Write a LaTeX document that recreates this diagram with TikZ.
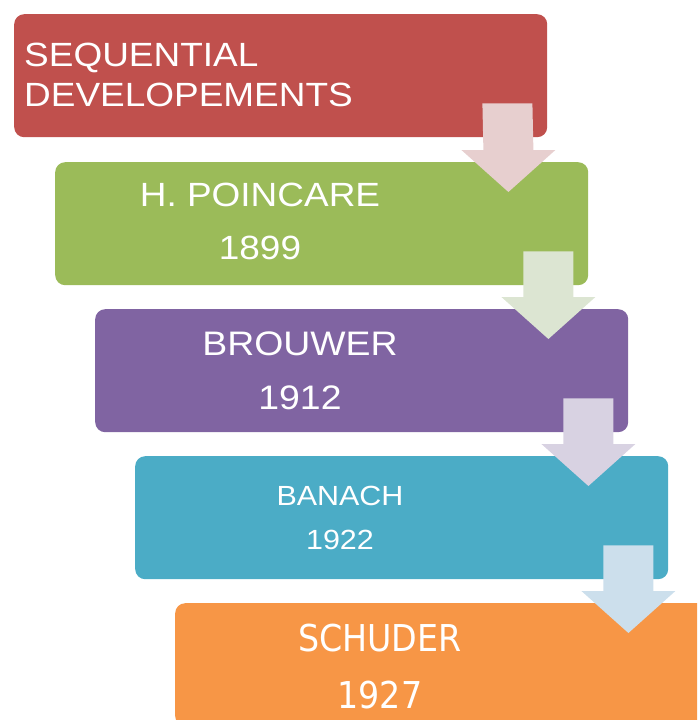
\documentclass[tikz,border=0pt]{standalone}
\usepackage{fontspec}
\setmainfont[FakeStretch=1.1]{Liberation Sans}
\newfontfamily\schuderfont[FakeStretch=0.9]{DejaVu Sans}
\usetikzlibrary{calc}
\definecolor{stepred}{HTML}{C0504D}
\definecolor{stepgreen}{HTML}{9BBB59}
\definecolor{steppurple}{HTML}{8064A2}
\definecolor{stepblue}{HTML}{4BACC6}
\definecolor{steporange}{HTML}{F79646}
\definecolor{arrowred}{HTML}{E7CFCF}
\definecolor{arrowgreen}{HTML}{DCE5D2}
\definecolor{arrowpurple}{HTML}{D8D2E2}
\definecolor{arrowblue}{HTML}{CCDFEC}
\tikzset{
  stage/.style={fill=#1, rounded corners=10pt, minimum width=533pt,
    minimum height=123pt, inner sep=0pt, anchor=north west},
  stagetext/.style={text=white, align=center, inner sep=0pt,
    font=\fontsize{33.6}{53}\selectfont}
}

\begin{document}
\begin{tikzpicture}[x=1pt, y=-1pt]
\useasboundingbox (0,0) rectangle (697,720);
\clip (0,0) rectangle (697,720);
\node[stage=stepred] (red) at (14,14) {};
\node[stage=stepgreen] (green) at (55,162) {};
\node[stage=steppurple] (purple) at (95,309) {};
\node[stage=stepblue] (blue) at (135,456) {};
\node[stage=steporange] (orange) at (175,603) {};
% block arrows between the stages
\foreach \a/\b/\c in {red/green/arrowred, green/purple/arrowgreen,
  purple/blue/arrowpurple, blue/orange/arrowblue}
  \fill[\c] ($(\a.south east)+(-65,-34)$) -- ($(\a.south east)+(-15,-34)$)
    -- ($(\b.north east)+(-55,-12)$) -- ($(\b.north east)+(-33,-12)$)
    -- ($(\b.north east)+(-80,30)$) -- ($(\b.north east)+(-127,-12)$)
    -- ($(\b.north east)+(-105,-12)$) -- cycle;
\node[stagetext, align=left, anchor=west, font=\fontsize{33.6}{40}\selectfont]
  (title) at ($(red.west)+(10,-0.5)$) {SEQUENTIAL\\DEVELOPEMENTS};
\node[stagetext] (poincare) at ($(green.west)+(205,-2)$) {H. POINCARE\\1899};
\node[stagetext, font=\fontsize{34}{54}\selectfont] (brouwer)
  at ($(purple.west)+(205,0.5)$) {BROUWER\\1912};
\node[stagetext, font=\fontsize{27.7}{44}\selectfont] (banach)
  at ($(blue.west)+(205,0.5)$) {BANACH\\1922};
\node[stagetext, font=\schuderfont\fontsize{37}{57}\selectfont] (schuder)
  at ($(orange.west)+(205,1.5)$) {SCHUDER\\1927};
\end{tikzpicture}
\end{document}
